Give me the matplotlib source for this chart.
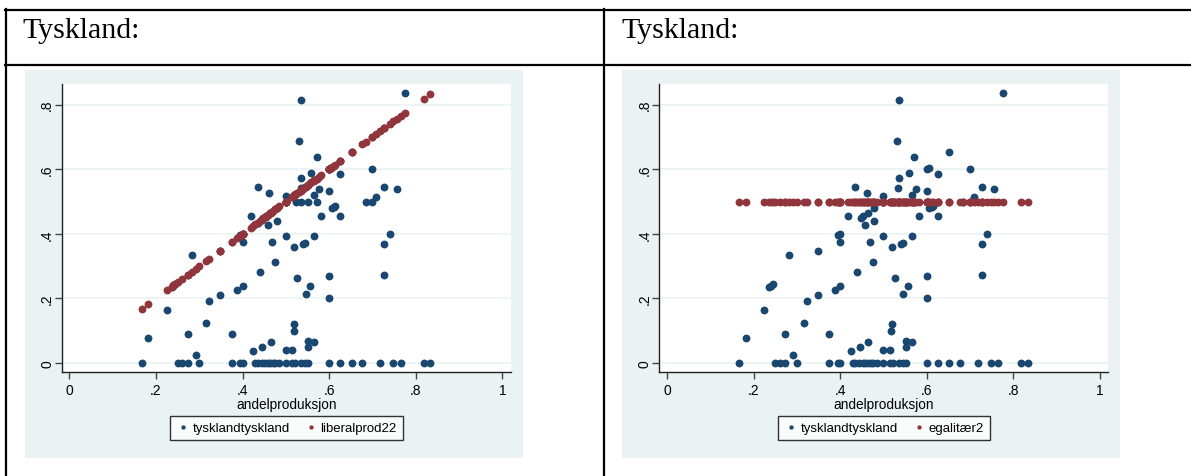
import matplotlib
matplotlib.use('Agg')
import matplotlib.pyplot as plt
from matplotlib.patches import Rectangle

andelproduksjon = [
    0.167, 0.182, 0.225, 0.236, 0.240, 0.245, 0.250, 0.261, 0.273, 0.273,
    0.283, 0.292, 0.300, 0.316, 0.323, 0.348, 0.348, 0.375, 0.375, 0.387,
    0.394, 0.400, 0.394, 0.400, 0.400, 0.400, 0.419, 0.424, 0.429, 0.435,
    0.435, 0.440, 0.444, 0.445, 0.448, 0.452, 0.453, 0.458, 0.458, 0.462,
    0.464, 0.464, 0.465, 0.468, 0.471, 0.476, 0.476, 0.479, 0.479, 0.485,
    0.500, 0.500, 0.500, 0.500, 0.500, 0.515, 0.515, 0.518, 0.519, 0.519,
    0.522, 0.524, 0.526, 0.531, 0.534, 0.535, 0.535, 0.535, 0.535, 0.540,
    0.544, 0.545, 0.546, 0.551, 0.551, 0.551, 0.550, 0.556, 0.559, 0.565,
    0.566, 0.566, 0.571, 0.571, 0.576, 0.581, 0.600, 0.600, 0.600, 0.600,
    0.605, 0.600, 0.606, 0.611, 0.614, 0.625, 0.625, 0.625, 0.652, 0.652,
    0.677, 0.684, 0.700, 0.700, 0.709, 0.718, 0.727, 0.727, 0.727, 0.740,
    0.748, 0.765, 0.756, 0.775, 0.818, 0.833]

tysklandtyskland = [
    0.000, 0.077, 0.164, 0.234, 0.239, 0.244, 0.000, 0.000, 0.000, 0.091,
    0.333, 0.025, 0.000, 0.125, 0.192, 0.212, 0.348, 0.000, 0.091, 0.225,
    0.000, 0.000, 0.396, 0.400, 0.375, 0.238, 0.455, 0.038, 0.000, 0.000,
    0.545, 0.283, 0.000, 0.049, 0.450, 0.000, 0.455, 0.000, 0.428, 0.527,
    0.464, 0.000, 0.066, 0.375, 0.000, 0.313, 0.000, 0.440, 0.480, 0.000,
    0.516, 0.394, 0.041, 0.000, 0.500, 0.000, 0.041, 0.100, 0.120, 0.360,
    0.000, 0.500, 0.263, 0.688, 0.543, 0.815, 0.572, 0.000, 0.500, 0.367,
    0.372, 0.000, 0.213, 0.069, 0.049, 0.000, 0.500, 0.238, 0.589, 0.394,
    0.066, 0.520, 0.637, 0.500, 0.539, 0.455, 0.200, 0.270, 0.533, 0.600,
    0.604, 0.000, 0.479, 0.483, 0.486, 0.584, 0.455, 0.000, 0.652, 0.000,
    0.000, 0.500, 0.600, 0.500, 0.513, 0.000, 0.545, 0.367, 0.273, 0.400,
    0.000, 0.000, 0.540, 0.837, 0.000, 0.000]

liberalprod22 = [
    0.167, 0.182, 0.225, 0.236, 0.240, 0.245, 0.250, 0.261, 0.273, 0.273,
    0.283, 0.292, 0.300, 0.316, 0.323, 0.348, 0.348, 0.375, 0.375, 0.387,
    0.394, 0.400, 0.394, 0.400, 0.400, 0.400, 0.419, 0.424, 0.429, 0.435,
    0.435, 0.440, 0.444, 0.445, 0.448, 0.452, 0.453, 0.458, 0.458, 0.462,
    0.464, 0.464, 0.465, 0.468, 0.471, 0.476, 0.476, 0.479, 0.479, 0.485,
    0.500, 0.500, 0.500, 0.500, 0.500, 0.515, 0.515, 0.518, 0.519, 0.519,
    0.522, 0.524, 0.526, 0.531, 0.534, 0.535, 0.535, 0.535, 0.535, 0.540,
    0.544, 0.545, 0.546, 0.551, 0.551, 0.551, 0.550, 0.556, 0.559, 0.565,
    0.566, 0.566, 0.571, 0.571, 0.576, 0.581, 0.600, 0.600, 0.600, 0.600,
    0.605, 0.600, 0.606, 0.611, 0.614, 0.625, 0.625, 0.625, 0.652, 0.652,
    0.677, 0.684, 0.700, 0.700, 0.709, 0.718, 0.727, 0.727, 0.727, 0.740,
    0.748, 0.765, 0.756, 0.775, 0.818, 0.833]

egalitaer2 = [
    0.5, 0.5, 0.5, 0.5, 0.5, 0.5, 0.5, 0.5, 0.5, 0.5, 0.5, 0.5, 0.5, 0.5, 0.5, 0.5,
    0.5, 0.5, 0.5, 0.5, 0.5, 0.5, 0.5, 0.5, 0.5, 0.5, 0.5, 0.5, 0.5, 0.5, 0.5, 0.5,
    0.5, 0.5, 0.5, 0.5, 0.5, 0.5, 0.5, 0.5, 0.5, 0.5, 0.5, 0.5, 0.5, 0.5, 0.5, 0.5,
    0.5, 0.5, 0.5, 0.5, 0.5, 0.5, 0.5, 0.5, 0.5, 0.5, 0.5, 0.5, 0.5, 0.5, 0.5, 0.5,
    0.5, 0.5, 0.5, 0.5, 0.5, 0.5, 0.5, 0.5, 0.5, 0.5, 0.5, 0.5, 0.5, 0.5, 0.5, 0.5,
    0.5, 0.5, 0.5, 0.5, 0.5, 0.5, 0.5, 0.5, 0.5, 0.5, 0.5, 0.5, 0.5, 0.5, 0.5, 0.5,
    0.5, 0.5, 0.5, 0.5, 0.5, 0.5, 0.5, 0.5, 0.5, 0.5, 0.5, 0.5, 0.5, 0.5, 0.5, 0.5,
    0.5, 0.5, 0.5, 0.5]

xticks = [0, 0.2, 0.4, 0.6, 0.8, 1]
xticklabels = ['0', '.2', '.4', '.6', '.8', '1']
yticks = [0, 0.2, 0.4, 0.6, 0.8]
yticklabels = ['0', '.2', '.4', '.6', '.8']

panels = [('liberalprod22', liberalprod22), ('egalitær2', egalitaer2)]
headers = ['Tyskland:', 'Tyskland:']

BLUE = '#1a476f'
RED = '#90353b'
BG = '#eaf2f3'
W, H = 1191, 477

plt.rcParams['font.family'] = ['Liberation Sans', 'DejaVu Sans']

fig = plt.figure(figsize=(W / 100, H / 100), dpi=100)

# table and grey graph regions, drawn in pixel coordinates
bg = fig.add_axes([0, 0, 1, 1])
bg.set_xlim(0, W)
bg.set_ylim(H, 0)
bg.axis('off')
bg.plot([5, W], [11, 11], color='black', lw=1.6)
bg.plot([5, W], [66, 66], color='black', lw=1.6)
bg.plot([6, 6], [10, H], color='black', lw=1.6)
bg.plot([604, 604], [10, H], color='black', lw=1.6)
for i, x0 in enumerate([25, 622]):
    bg.add_patch(Rectangle((x0, 71), 498, 388, facecolor=BG, edgecolor='none'))
    bg.text(x0 - 3 if i == 0 else x0 - 1, 31, headers[i], fontsize=21.5,
            family='Liberation Serif', va='center', ha='left')

lefts = [61.7, 659.3]
for i, (name, vals) in enumerate(panels):
    ax = fig.add_axes([lefts[i] / W, 1 - 372.7 / H, 449 / W, 287.7 / H])
    ax.set_facecolor('white')
    ax.scatter(andelproduksjon, tysklandtyskland, s=32, color=BLUE,
               linewidths=0, label='tysklandtyskland', zorder=3)
    ax.scatter(andelproduksjon, vals, s=32, color=RED, linewidths=0,
               label=name, zorder=4)
    ax.set_xlim(-0.0177, 1.0193)
    ax.set_ylim(-0.027, 0.864)
    ax.set_xticks(xticks)
    ax.set_xticklabels(xticklabels, fontsize=10)
    ax.set_yticks(yticks)
    ax.set_yticklabels(yticklabels, fontsize=10, rotation=90, va='center')
    ax.tick_params(direction='out', length=5, width=1, color='#444444', pad=3)
    ax.tick_params(axis='y', pad=0.5)
    ax.grid(axis='y', color=BG, lw=1.2, zorder=0)
    ax.set_axisbelow(True)
    for s in ['top', 'right']:
        ax.spines[s].set_visible(False)
    for s in ['left', 'bottom']:
        ax.spines[s].set_color('#222222')
        ax.spines[s].set_linewidth(1)
    ax.set_xlabel('andelproduksjon', fontsize=9.8, labelpad=0)
    leg = ax.legend(loc='center', bbox_to_anchor=(0.5, -0.195), ncol=2,
                    fontsize=9.5, markerscale=0.55, frameon=True, fancybox=False,
                    edgecolor='black', handletextpad=0.2, columnspacing=1.0,
                    borderpad=0.45, handlelength=1.1, borderaxespad=0)
    leg.get_frame().set_linewidth(1)

fig.savefig('out.png', dpi=100)
